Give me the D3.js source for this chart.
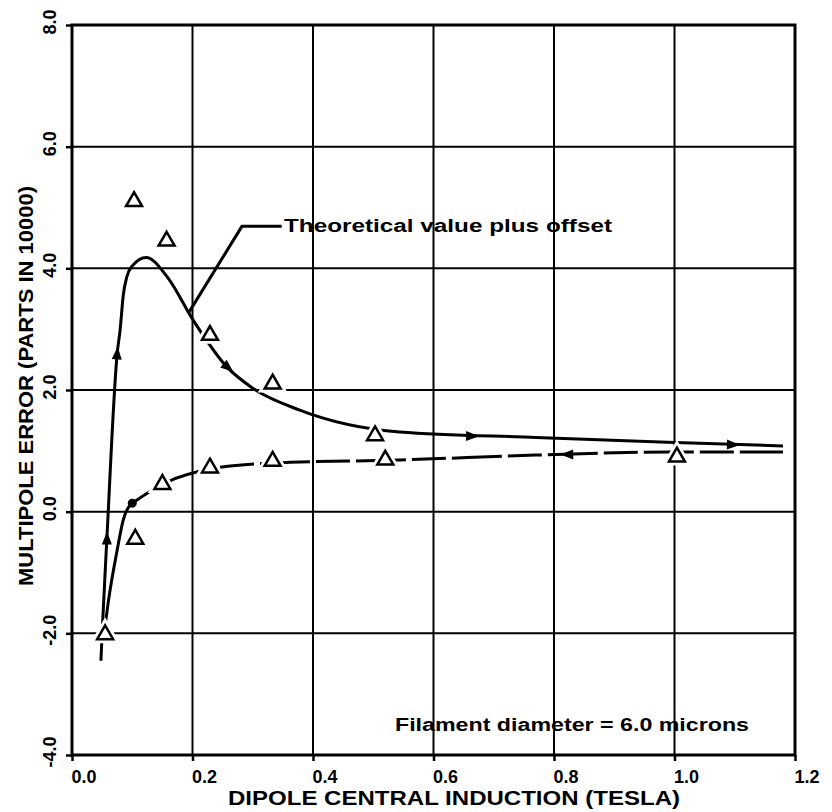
<!DOCTYPE html>
<html>
<head>
<meta charset="utf-8">
<script src="https://cdn.jsdelivr.net/npm/d3@7"></script>
<style>
  body { margin: 0; background: #fff; }
  text { font-family: "Liberation Sans", Arial, sans-serif; font-weight: bold; fill: #000; }
</style>
</head>
<body>
<div id="chart"></div>
<script>
// tick values
const xTickValues = [0.0, 0.2, 0.4, 0.6, 0.8, 1.0, 1.2];
const yTickValues = [-4, -2, 0, 2, 4, 6, 8];

// solid curve (theoretical, rising field)
const risingX = [0.048, 0.051, 0.058, 0.075, 0.080, 0.085, 0.091, 0.100, 0.123, 0.158, 0.201, 0.257, 0.300, 0.378, 0.544, 0.770, 0.988, 1.180];
const risingY = [-2.45, -1.79, -0.42, 2.60, 3.00, 3.55, 3.86, 4.04, 4.18, 3.86, 3.15, 2.38, 2.03, 1.67, 1.31, 1.22, 1.14, 1.08];

// falling field curve (solid near origin, dashed after)
const fallingX = [0.056, 0.060, 0.075, 0.085, 0.100, 0.150, 0.229, 0.333, 0.544, 0.770, 0.990, 1.180];
const fallingY = [-1.80, -1.50, -0.63, -0.14, 0.14, 0.45, 0.70, 0.80, 0.85, 0.93, 0.98, 0.98];

// measured points (open triangles)
const measuredX = [0.103, 0.157, 0.229, 0.333, 0.503, 1.004, 0.229, 0.333, 0.150, 0.520, 0.105, 0.055];
const measuredY = [5.10, 4.45, 2.90, 2.10, 1.25, 0.90, 0.72, 0.83, 0.45, 0.85, -0.45, -2.02];

// direction arrows: from point -> toward point
const arrowFrom = [[0.058, -0.44], [0.075, 2.60], [0.259, 2.37], [0.664, 1.24], [1.097, 1.10], [0.822, 0.94]];
const arrowTo   = [[0.0585, 0.0], [0.078, 3.00], [0.300, 2.03], [0.770, 1.22], [1.180, 1.08], [0.700, 0.92]];

// filled dot on falling curve
const dotX = [0.100];
const dotY = [0.14];

// annotation leader (data coords)
const leaderX = [0.193, 0.282, 0.348];
const leaderY = [3.26, 4.69, 4.69];

const width = 832, height = 812;
const x = d3.scaleLinear().domain([0, 1.2]).range([72, 795]);
const y = d3.scaleLinear().domain([-4, 8]).range([755, 25]);

const svg = d3.select("#chart").append("svg")
  .attr("width", width)
  .attr("height", height);

// grid
const grid = svg.append("g").attr("stroke", "#000").attr("stroke-width", 2);
grid.selectAll(".vg").data(xTickValues.slice(1, -1)).enter().append("line")
  .attr("x1", d => x(d)).attr("x2", d => x(d))
  .attr("y1", y(8)).attr("y2", y(-4));
grid.selectAll(".hg").data(yTickValues.slice(1, -1)).enter().append("line")
  .attr("x1", x(0)).attr("x2", x(1.2))
  .attr("y1", d => y(d)).attr("y2", d => y(d));

// axes (ticks only)
const xAxis = d3.axisBottom(x).tickValues(xTickValues).tickSize(6).tickFormat("");
const yAxis = d3.axisLeft(y).tickValues(yTickValues).tickSize(6).tickFormat("");
svg.append("g").attr("transform", `translate(0,${y(-4)})`).call(xAxis)
  .call(g => g.select(".domain").remove())
  .selectAll("line").attr("stroke", "#000").attr("stroke-width", 2.5);
svg.append("g").attr("transform", `translate(${x(0)},0)`).call(yAxis)
  .call(g => g.select(".domain").remove())
  .selectAll("line").attr("stroke", "#000").attr("stroke-width", 2.5);

// frame
svg.append("rect")
  .attr("x", x(0)).attr("y", y(8))
  .attr("width", x(1.2) - x(0)).attr("height", y(-4) - y(8))
  .attr("fill", "none").attr("stroke", "#000").attr("stroke-width", 3);

// tick labels
svg.selectAll(".xl").data(xTickValues).enter().append("text")
  .attr("x", d => x(d) + 12).attr("y", 783)
  .attr("text-anchor", "middle")
  .style("font-size", "18px")
  .text(d => d.toFixed(1));
svg.selectAll(".yl").data(yTickValues).enter().append("text")
  .attr("transform", d => `translate(56,${y(d) - 3}) rotate(-90)`)
  .attr("text-anchor", "middle")
  .style("font-size", "18px")
  .text(d => d.toFixed(1));

// axis titles
svg.append("text")
  .attr("x", 454).attr("y", 805)
  .attr("text-anchor", "middle")
  .attr("textLength", 452).attr("lengthAdjust", "spacingAndGlyphs")
  .style("font-size", "20px")
  .text("DIPOLE CENTRAL INDUCTION (TESLA)");
svg.append("text")
  .attr("transform", "translate(33,386) rotate(-90)")
  .attr("text-anchor", "middle")
  .attr("textLength", 400).attr("lengthAdjust", "spacingAndGlyphs")
  .style("font-size", "20px")
  .text("MULTIPOLE ERROR (PARTS IN 10000)");

// curves
const line = d3.line().x(d => x(d[0])).y(d => y(d[1])).curve(d3.curveMonotoneX);
const rising = risingX.map((v, i) => [v, risingY[i]]);
const falling = fallingX.map((v, i) => [v, fallingY[i]]);

svg.append("path").datum(rising)
  .attr("d", line).attr("fill", "none")
  .attr("stroke", "#000").attr("stroke-width", 3);
svg.append("path").datum(falling.filter(d => d[0] <= 0.100))
  .attr("d", line).attr("fill", "none")
  .attr("stroke", "#000").attr("stroke-width", 3);
svg.append("path").datum(falling.filter(d => d[0] >= 0.100))
  .attr("d", line).attr("fill", "none")
  .attr("stroke", "#000").attr("stroke-width", 3)
  .attr("stroke-dasharray", "34,6,50,6");

// leader line + annotation
svg.append("path").datum(leaderX.map((v, i) => [v, leaderY[i]]))
  .attr("d", d3.line().x(d => x(d[0])).y(d => y(d[1])))
  .attr("fill", "none").attr("stroke", "#000").attr("stroke-width", 3);
svg.append("text")
  .attr("x", 284).attr("y", 232)
  .attr("textLength", 328).attr("lengthAdjust", "spacingAndGlyphs")
  .style("font-size", "18px")
  .text("Theoretical value plus offset");
svg.append("text")
  .attr("x", 395).attr("y", 731)
  .attr("textLength", 354).attr("lengthAdjust", "spacingAndGlyphs")
  .style("font-size", "18px")
  .text("Filament diameter = 6.0 microns");

// direction arrows
svg.selectAll(".arrow").data(arrowFrom).enter().append("path")
  .attr("d", "M7,0 L-6,-5 L-6,5 Z")
  .attr("fill", "#000")
  .attr("transform", (d, i) => {
    const px = x(d[0]), py = y(d[1]);
    const a = Math.atan2(y(arrowTo[i][1]) - py, x(arrowTo[i][0]) - px) * 180 / Math.PI;
    return `translate(${px},${py}) rotate(${a})`;
  });

// dot
svg.selectAll(".dot").data(dotX).enter().append("circle")
  .attr("cx", d => x(d)).attr("cy", (d, i) => y(dotY[i]))
  .attr("r", 4.5).attr("fill", "#000");

// measured triangles
const tri = d3.symbol().type(d3.symbolTriangle).size(110);
const pts = measuredX.map((v, i) => [v, measuredY[i]]);
svg.selectAll(".halo").data(pts).enter().append("path")
  .attr("d", tri)
  .attr("transform", d => `translate(${x(d[0])},${y(d[1])})`)
  .attr("fill", "#fff").attr("stroke", "#fff").attr("stroke-width", 8);
svg.selectAll(".tri").data(pts).enter().append("path")
  .attr("d", tri)
  .attr("transform", d => `translate(${x(d[0])},${y(d[1])})`)
  .attr("fill", "#fff").attr("stroke", "#000").attr("stroke-width", 2.5);
</script>
</body>
</html>
